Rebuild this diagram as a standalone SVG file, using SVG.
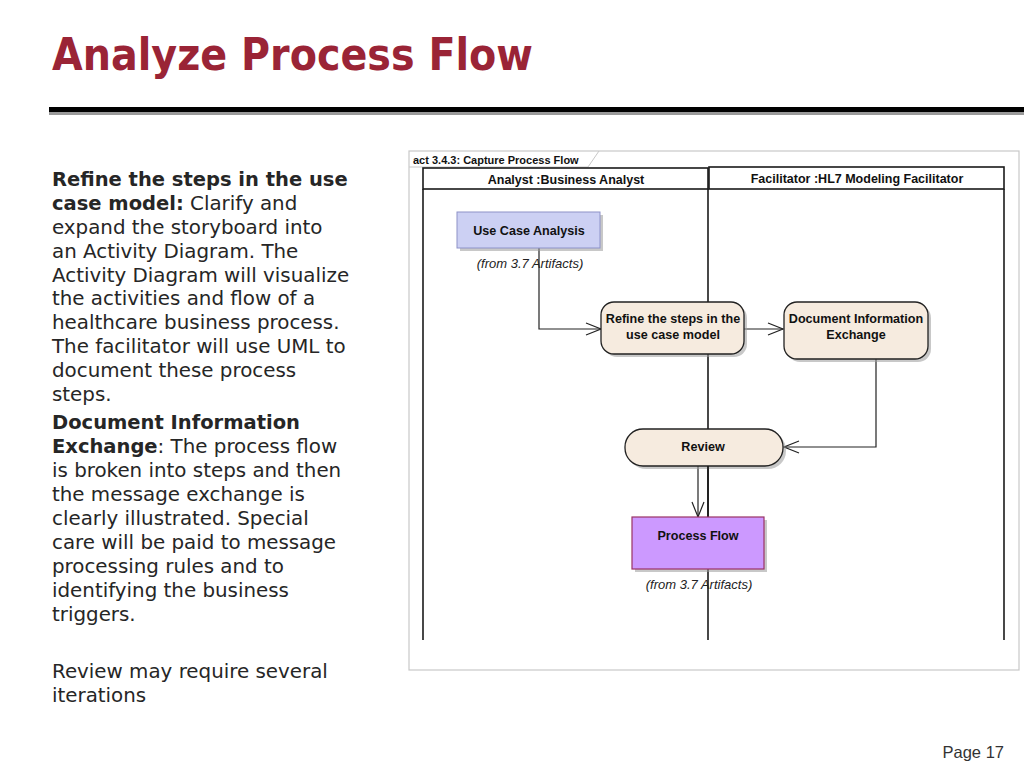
<svg xmlns="http://www.w3.org/2000/svg" width="1024" height="768" viewBox="0 0 1024 768">
<style>
.title{font-family:"DejaVu Sans",Verdana,sans-serif;font-weight:bold;font-size:44px;fill:#9a2436}
.body{font-family:"DejaVu Sans",Verdana,sans-serif;font-size:19.85px;fill:#262626}
.b{font-weight:bold;font-size:19.5px}
.lbl{font-family:"Liberation Sans",Arial,sans-serif;font-weight:bold;font-size:12.6px;fill:#111;text-anchor:middle}
.hdr{font-family:"Liberation Sans",Arial,sans-serif;font-weight:bold;font-size:12.5px;fill:#111;text-anchor:middle}
.note{font-family:"Liberation Sans",Arial,sans-serif;font-style:italic;font-size:13px;fill:#222;text-anchor:middle}
.lane{stroke:#1a1a1a;stroke-width:1.6;fill:none}
.shadow{fill:#9a9a9a;opacity:0.55}
.conn{stroke:#222;stroke-width:1.2;fill:none}
</style>
<defs>
<marker id="arr" markerUnits="userSpaceOnUse" markerWidth="18" markerHeight="16" refX="16" refY="7" orient="auto">
<path d="M1,1 L16,7 L1,13" fill="none" stroke="#222" stroke-width="1.2"/>
</marker>
</defs>
<rect width="1024" height="768" fill="#fff"/>

<text class="title" x="52" y="70" textLength="481" lengthAdjust="spacingAndGlyphs">Analyze Process Flow</text>
<rect x="49" y="110" width="975" height="5" fill="#9a9a9a"/>
<rect x="49" y="107" width="975" height="5" fill="#000"/>

<g id="bodytext" class="body">
<text x="52" y="186"><tspan class="b">Refine the steps in the use</tspan></text>
<text x="52" y="210"><tspan class="b">case model:</tspan> Clarify and</text>
<text x="52" y="234">expand the storyboard into</text>
<text x="52" y="258">an Activity Diagram. The</text>
<text x="52" y="282">Activity Diagram will visualize</text>
<text x="52" y="305">the activities and flow of a</text>
<text x="52" y="329">healthcare business process.</text>
<text x="52" y="353">The facilitator will use UML to</text>
<text x="52" y="377">document these process</text>
<text x="52" y="401">steps.</text>
<text x="52" y="429"><tspan class="b">Document Information</tspan></text>
<text x="52" y="453"><tspan class="b">Exchange</tspan>: The process flow</text>
<text x="52" y="477">is broken into steps and then</text>
<text x="52" y="501">the message exchange is</text>
<text x="52" y="525">clearly illustrated. Special</text>
<text x="52" y="549">care will be paid to message</text>
<text x="52" y="573">processing rules and to</text>
<text x="52" y="597">identifying the business</text>
<text x="52" y="621">triggers.</text>
<text x="52" y="678">Review may require several</text>
<text x="52" y="702">iterations</text>
</g>

<g id="frame">
<rect x="409" y="151" width="610" height="519" fill="#fff" stroke="#c8c8c8" stroke-width="1.2"/>
<path d="M409,167 H588 L599,151" fill="none" stroke="#c8c8c8" stroke-width="1"/>
<text x="413" y="164" font-family="'Liberation Sans',Arial,sans-serif" font-weight="bold" font-size="11px" fill="#111">act 3.4.3: Capture Process Flow</text>
</g>

<g id="lanes">
<rect x="423" y="168" width="285" height="21" class="lane"/>
<rect x="709" y="167" width="295" height="22" class="lane"/>
<line x1="423" y1="189" x2="423" y2="640" class="lane"/>
<line x1="708" y1="189" x2="708" y2="640" class="lane"/>
<line x1="1004" y1="189" x2="1004" y2="640" class="lane"/>
<text class="hdr" x="566" y="184">Analyst :Business Analyst</text>
<text class="hdr" x="857" y="183">Facilitator :HL7 Modeling Facilitator</text>
</g>

<g id="connectors">
<path class="conn" d="M539,248 V329 H601" marker-end="url(#arr)"/>
<path class="conn" d="M744,329 H783" marker-end="url(#arr)"/>
<path class="conn" d="M876,359 V447 H784" marker-end="url(#arr)"/>
<path class="conn" d="M698,466 V517" marker-end="url(#arr)"/>
</g>

<g id="node-usecase">
<rect x="460" y="215" width="143" height="36" class="shadow"/>
<rect x="457" y="212" width="143" height="36" fill="#ccd0f3" stroke="#8d92c8" stroke-width="1"/>
<text class="lbl" x="529" y="235">Use Case Analysis</text>
</g>
<text class="note" x="530" y="268">(from 3.7 Artifacts)</text>

<g id="node-refine">
<rect x="604" y="305" width="143" height="52" rx="13" class="shadow"/>
<rect x="601" y="302" width="143" height="52" rx="13" fill="#f6ebdf" stroke="#222" stroke-width="1.3"/>
<text class="lbl" x="673" y="323">Refine the steps in the</text>
<text class="lbl" x="673" y="339">use case model</text>
</g>

<g id="node-document">
<rect x="787" y="305" width="144" height="57" rx="13" class="shadow"/>
<rect x="784" y="302" width="144" height="57" rx="13" fill="#f6ebdf" stroke="#222" stroke-width="1.3"/>
<text class="lbl" x="856" y="323">Document Information</text>
<text class="lbl" x="856" y="339">Exchange</text>
</g>

<g id="node-review">
<rect x="628" y="432" width="158" height="37" rx="18" class="shadow"/>
<rect x="625" y="429" width="158" height="37" rx="18" fill="#f6ebdf" stroke="#222" stroke-width="1.3"/>
<text class="lbl" x="703" y="451">Review</text>
</g>

<line x1="708" y1="466" x2="708" y2="517" class="lane"/>

<g id="node-processflow">
<rect x="635" y="520" width="132" height="52" class="shadow"/>
<rect x="632" y="517" width="132" height="52" fill="#cc99ff" stroke="#993366" stroke-width="1.2"/>
<text class="lbl" x="698" y="540">Process Flow</text>
</g>
<text class="note" x="699" y="589">(from 3.7 Artifacts)</text>

<text x="1004" y="758" font-family="'Liberation Sans',Arial,sans-serif" font-size="16.5px" fill="#333" text-anchor="end">Page 17</text>
</svg>
